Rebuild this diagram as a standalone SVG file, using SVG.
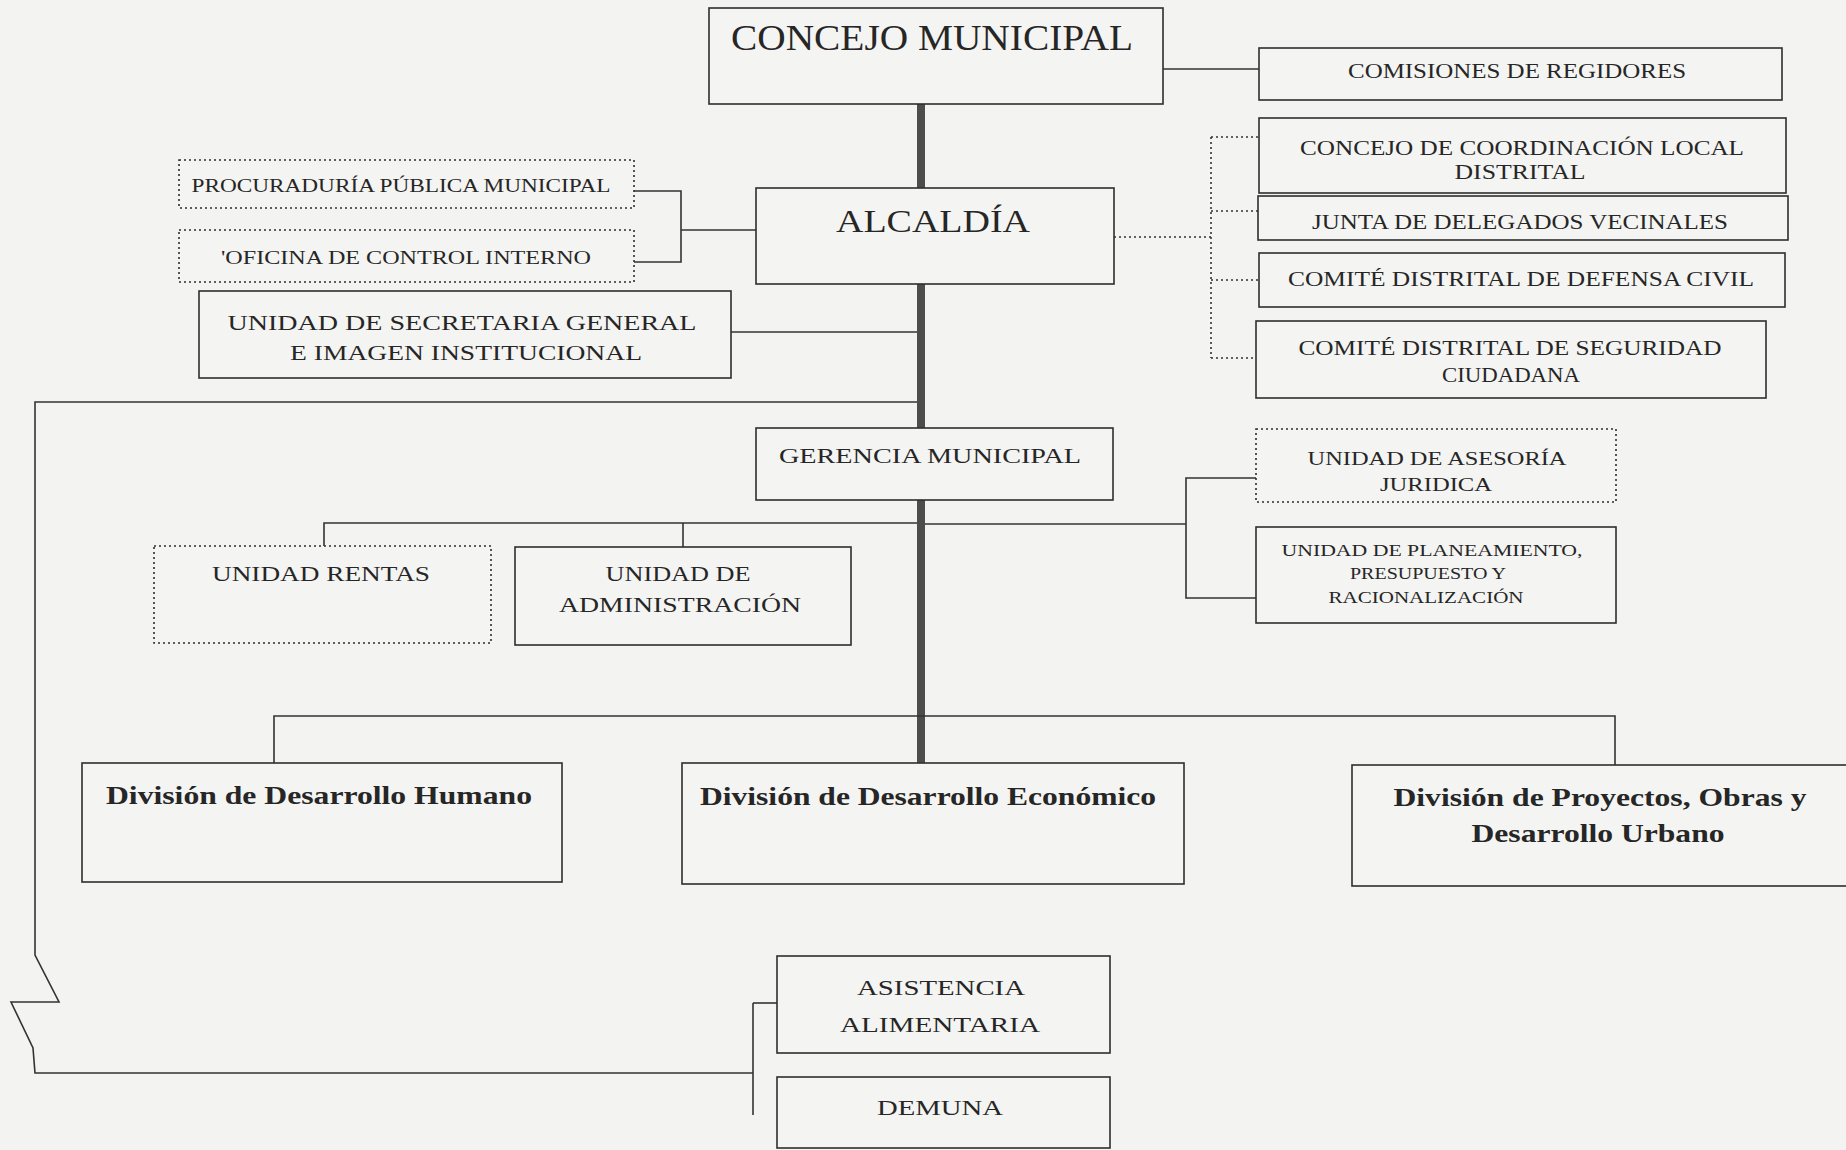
<svg xmlns="http://www.w3.org/2000/svg" width="1846" height="1150" viewBox="0 0 1846 1150">
<defs>
<style>
.bg{fill:#f3f3f1}
.box{fill:#f4f4f2;stroke:#2e2e2e;stroke-width:1.6}
.dot{fill:#f4f4f2;stroke:#2e2e2e;stroke-width:1.6;stroke-dasharray:2 3}
.ln{fill:none;stroke:#333;stroke-width:1.6}
.dl{fill:none;stroke:#333;stroke-width:1.6;stroke-dasharray:2 3}
.bar{fill:none;stroke:#4d4d4d;stroke-width:8}
text{font-family:"Liberation Serif","Times New Roman",serif;fill:#262626;text-anchor:middle}
.t20{font-size:20px}
.t18{font-size:18px}
.t17{font-size:16px}
.t22{font-size:22px}
.div{font-size:26px;font-weight:bold}
</style>
</defs>
<rect class="bg" x="0" y="0" width="1846" height="1150"/>

<g id="connectors">
<line class="bar" x1="921" y1="104" x2="921" y2="763"/>
<line class="ln" x1="1163" y1="69" x2="1259" y2="69"/>
<polyline class="dl" points="1114,237 1211,237"/>
<polyline class="dl" points="1211,137 1211,358"/>
<polyline class="dl" points="1211,137 1259,137"/>
<polyline class="dl" points="1211,211 1258,211"/>
<polyline class="dl" points="1211,280 1259,280"/>
<polyline class="dl" points="1211,358 1256,358"/>
<polyline class="ln" points="634,191 681,191 681,262 634,262"/>
<line class="ln" x1="681" y1="230" x2="756" y2="230"/>
<line class="ln" x1="731" y1="332" x2="917" y2="332"/>
<polyline class="ln" points="324,546 324,523 917,523"/>
<line class="ln" x1="683" y1="523" x2="683" y2="547"/>
<line class="ln" x1="925" y1="524" x2="1186" y2="524"/>
<polyline class="ln" points="1256,478 1186,478 1186,598 1256,598"/>
<polyline class="ln" points="274,763 274,716 1615,716 1615,765"/>
<polyline class="ln" points="917,402 35,402 35,955 59,1002 11,1002 33,1048 35,1073 753,1073"/>
<line class="ln" x1="753" y1="1003" x2="753" y2="1115"/>
<line class="ln" x1="753" y1="1003" x2="777" y2="1003"/>
</g>

<g id="concejo-municipal">
<rect class="box" x="709" y="8" width="454" height="96"/>
<text x="932" y="50" font-size="35" textLength="402" lengthAdjust="spacingAndGlyphs">CONCEJO MUNICIPAL</text>
</g>
<g id="comisiones-regidores">
<rect class="box" x="1259" y="48" width="523" height="52"/>
<text class="t20" x="1517" y="78" textLength="338" lengthAdjust="spacingAndGlyphs">COMISIONES DE REGIDORES</text>
</g>
<g id="concejo-coordinacion">
<rect class="box" x="1259" y="118" width="527" height="75"/>
<text class="t20" x="1522" y="155" textLength="444" lengthAdjust="spacingAndGlyphs">CONCEJO DE COORDINACIÓN LOCAL</text>
<text class="t20" x="1520" y="179" textLength="131" lengthAdjust="spacingAndGlyphs">DISTRITAL</text>
</g>
<g id="junta-delegados">
<rect class="box" x="1258" y="196" width="530" height="44"/>
<text class="t20" x="1520" y="229" textLength="416" lengthAdjust="spacingAndGlyphs">JUNTA DE DELEGADOS VECINALES</text>
</g>
<g id="comite-defensa-civil">
<rect class="box" x="1259" y="253" width="526" height="54"/>
<text class="t20" x="1521" y="286" textLength="466" lengthAdjust="spacingAndGlyphs">COMITÉ DISTRITAL DE DEFENSA CIVIL</text>
</g>
<g id="comite-seguridad">
<rect class="box" x="1256" y="321" width="510" height="77"/>
<text class="t20" x="1510" y="355" textLength="423" lengthAdjust="spacingAndGlyphs">COMITÉ DISTRITAL DE SEGURIDAD</text>
<text class="t20" x="1511" y="382" textLength="138" lengthAdjust="spacingAndGlyphs">CIUDADANA</text>
</g>
<g id="alcaldia">
<rect class="box" x="756" y="188" width="358" height="96"/>
<text x="933" y="232" font-size="32" textLength="194" lengthAdjust="spacingAndGlyphs">ALCALDÍA</text>
</g>
<g id="procuraduria">
<rect class="dot" x="179" y="160" width="455" height="48"/>
<text class="t18" x="401" y="192" textLength="419" lengthAdjust="spacingAndGlyphs">PROCURADURÍA PÚBLICA MUNICIPAL</text>
</g>
<g id="control-interno">
<rect class="dot" x="179" y="230" width="455" height="52"/>
<text class="t18" x="406" y="264" textLength="370" lengthAdjust="spacingAndGlyphs">'OFICINA DE CONTROL INTERNO</text>
</g>
<g id="secretaria-general">
<rect class="box" x="199" y="291" width="532" height="87"/>
<text class="t22" x="462" y="330" textLength="469" lengthAdjust="spacingAndGlyphs">UNIDAD DE SECRETARIA GENERAL</text>
<text class="t22" x="466" y="360" textLength="352" lengthAdjust="spacingAndGlyphs">E IMAGEN INSTITUCIONAL</text>
</g>
<g id="gerencia-municipal">
<rect class="box" x="756" y="428" width="357" height="72"/>
<text class="t22" x="930" y="463" textLength="302" lengthAdjust="spacingAndGlyphs">GERENCIA MUNICIPAL</text>
</g>
<g id="unidad-rentas">
<rect class="dot" x="154" y="546" width="337" height="97"/>
<text class="t20" x="321" y="581" textLength="218" lengthAdjust="spacingAndGlyphs">UNIDAD RENTAS</text>
</g>
<g id="unidad-administracion">
<rect class="box" x="515" y="547" width="336" height="98"/>
<text class="t20" x="678" y="581" textLength="145" lengthAdjust="spacingAndGlyphs">UNIDAD DE</text>
<text class="t20" x="680" y="612" textLength="242" lengthAdjust="spacingAndGlyphs">ADMINISTRACIÓN</text>
</g>
<g id="asesoria-juridica">
<rect class="dot" x="1256" y="429" width="360" height="73"/>
<text class="t18" x="1437" y="465" textLength="259" lengthAdjust="spacingAndGlyphs">UNIDAD DE ASESORÍA</text>
<text class="t18" x="1436" y="491" textLength="112" lengthAdjust="spacingAndGlyphs">JURIDICA</text>
</g>
<g id="planeamiento">
<rect class="box" x="1256" y="527" width="360" height="96"/>
<text class="t17" x="1432" y="556" textLength="301" lengthAdjust="spacingAndGlyphs">UNIDAD DE PLANEAMIENTO,</text>
<text class="t17" x="1428" y="579" textLength="156" lengthAdjust="spacingAndGlyphs">PRESUPUESTO Y</text>
<text class="t17" x="1426" y="603" textLength="195" lengthAdjust="spacingAndGlyphs">RACIONALIZACIÓN</text>
</g>
<g id="division-desarrollo-humano">
<rect class="box" x="82" y="763" width="480" height="119"/>
<text class="div" x="319" y="804" textLength="426" lengthAdjust="spacingAndGlyphs">División de Desarrollo Humano</text>
</g>
<g id="division-desarrollo-economico">
<rect class="box" x="682" y="763" width="502" height="121"/>
<text class="div" x="928" y="805" textLength="456" lengthAdjust="spacingAndGlyphs">División de Desarrollo Económico</text>
</g>
<g id="division-proyectos-obras">
<rect class="box" x="1352" y="765" width="500" height="121"/>
<text class="div" x="1600" y="806" textLength="413" lengthAdjust="spacingAndGlyphs">División de Proyectos, Obras y</text>
<text class="div" x="1598" y="842" textLength="253" lengthAdjust="spacingAndGlyphs">Desarrollo Urbano</text>
</g>
<g id="asistencia-alimentaria">
<rect class="box" x="777" y="956" width="333" height="97"/>
<text class="t22" x="941" y="995" textLength="168" lengthAdjust="spacingAndGlyphs">ASISTENCIA</text>
<text class="t22" x="940" y="1032" textLength="200" lengthAdjust="spacingAndGlyphs">ALIMENTARIA</text>
</g>
<g id="demuna">
<rect class="box" x="777" y="1077" width="333" height="71"/>
<text class="t22" x="940" y="1115" textLength="126" lengthAdjust="spacingAndGlyphs">DEMUNA</text>
</g>
</svg>
